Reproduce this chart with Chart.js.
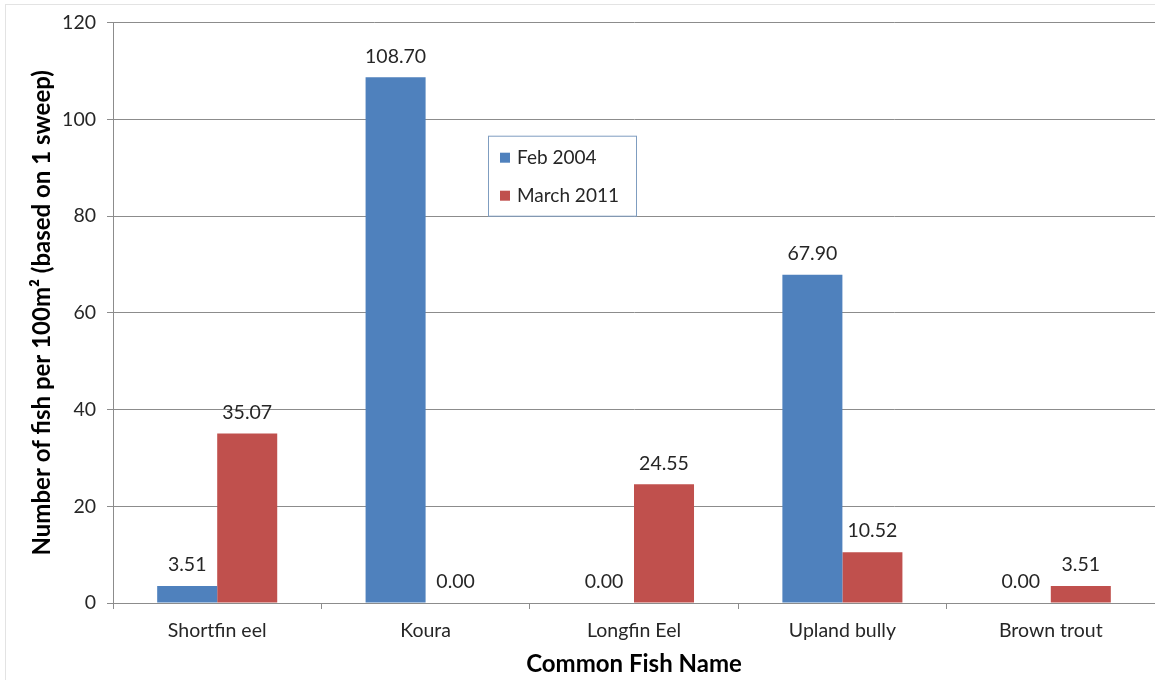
<!DOCTYPE html>
<html>
<head>
<meta charset="utf-8">
<script src="https://cdn.jsdelivr.net/npm/chart.js@4.4.1/dist/chart.umd.min.js"></script>
<style>
  html, body { margin: 0; padding: 0; background: #fff; }
  #wrap { width: 1155px; height: 680px; position: relative; }
</style>
</head>
<body>
<div id="wrap"><canvas id="fishChart"></canvas></div>
<script>
// Data
const categories = ['Shortfin eel', 'Koura', 'Longfin Eel', 'Upland bully', 'Brown trout'];
const feb2004 = [3.51, 108.70, 0.00, 67.90, 0.00];
const march2011 = [35.07, 0.00, 24.55, 10.52, 3.51];
const seriesNames = ['Feb 2004', 'March 2011'];
const yTicks = [0, 20, 40, 60, 80, 100, 120];

const FONT = 'Lato, "Liberation Sans", sans-serif';
const TEXT = '#262626';

// white background + faint frame like the pasted image
const backgroundPlugin = {
    id: 'backgroundPlugin',
    beforeDraw(chart) {
        const ctx = chart.ctx;
        ctx.save();
        ctx.fillStyle = '#fff';
        ctx.fillRect(0, 0, chart.width, chart.height);
        ctx.strokeStyle = '#e3e3e3';
        ctx.lineWidth = 1;
        ctx.strokeRect(5.5, 4.5, chart.width + 10, chart.height + 10);
        ctx.restore();
    }
};

// values printed above every bar (zeros too)
const valueLabels = {
    id: 'valueLabels',
    afterDatasetsDraw(chart) {
        const ctx = chart.ctx;
        ctx.save();
        ctx.font = '19.5px ' + FONT;
        ctx.fillStyle = TEXT;
        ctx.textAlign = 'center';
        ctx.textBaseline = 'middle';
        chart.data.datasets.forEach((ds, i) => {
            chart.getDatasetMeta(i).data.forEach((bar, j) => {
                ctx.fillText(ds.data[j].toFixed(2), bar.x, bar.y - 21);
            });
        });
        ctx.restore();
    }
};

// boxed legend floating inside the plot
const boxLegend = {
    id: 'boxLegend',
    afterDraw(chart) {
        const ctx = chart.ctx;
        const area = chart.chartArea;
        const x = area.left + 375, y = area.top + 113, w = 148, h = 80;
        ctx.save();
        ctx.fillStyle = '#fff';
        ctx.fillRect(x, y, w, h);
        ctx.strokeStyle = '#7f9dc0';
        ctx.lineWidth = 1;
        ctx.strokeRect(x + 0.5, y + 0.5, w, h);
        ctx.font = '19px ' + FONT;
        ctx.textBaseline = 'middle';
        chart.data.datasets.forEach((ds, i) => {
            const cy = y + 22 + i * 38;
            ctx.fillStyle = ds.backgroundColor;
            ctx.fillRect(x + 12, cy - 5, 10, 10);
            ctx.fillStyle = TEXT;
            ctx.fillText(ds.label, x + 29, cy);
        });
        ctx.restore();
    }
};

new Chart(document.getElementById('fishChart'), {
    type: 'bar',
    data: {
        labels: categories,
        datasets: [
            { label: seriesNames[0], data: feb2004, backgroundColor: '#4f81bd' },
            { label: seriesNames[1], data: march2011, backgroundColor: '#c0504d' }
        ]
    },
    options: {
        responsive: true,
        maintainAspectRatio: false,
        animation: false,
        layout: { padding: { top: 20, right: 0, left: 0, bottom: 0 } },
        datasets: { bar: { categoryPercentage: 0.576, barPercentage: 1.0 } },
        plugins: {
            legend: { display: false },
            tooltip: { enabled: false }
        },
        scales: {
            x: {
                grid: { drawOnChartArea: false, offset: true, color: '#8c8c8c', tickLength: 6 },
                border: { color: '#8c8c8c' },
                ticks: { color: TEXT, font: { family: FONT, size: 19.5 }, padding: 10 },
                title: {
                    display: true, text: 'Common Fish Name', color: '#000',
                    font: { family: FONT, size: 24, weight: 'bold' },
                    padding: { top: 0, bottom: 1 }
                },
                afterFit(scale) { scale.height = 77; }
            },
            y: {
                min: 0, max: 120,
                afterBuildTicks(scale) { scale.ticks = yTicks.map(v => ({ value: v })); },
                grid: { color: '#8c8c8c', tickLength: 6 },
                border: { color: '#8c8c8c' },
                ticks: { color: TEXT, font: { family: FONT, size: 19.5 }, padding: 11 },
                title: {
                    display: true, text: 'Number of fish per 100m\u00b2 (based on 1 sweep)', color: '#000',
                    font: { family: FONT, size: 24, weight: 'bold' },
                    padding: { top: 28, bottom: 0 }
                },
                afterFit(scale) { scale.width = 113; }
            }
        }
    },
    plugins: [backgroundPlugin, valueLabels, boxLegend]
});
</script>
</body>
</html>
